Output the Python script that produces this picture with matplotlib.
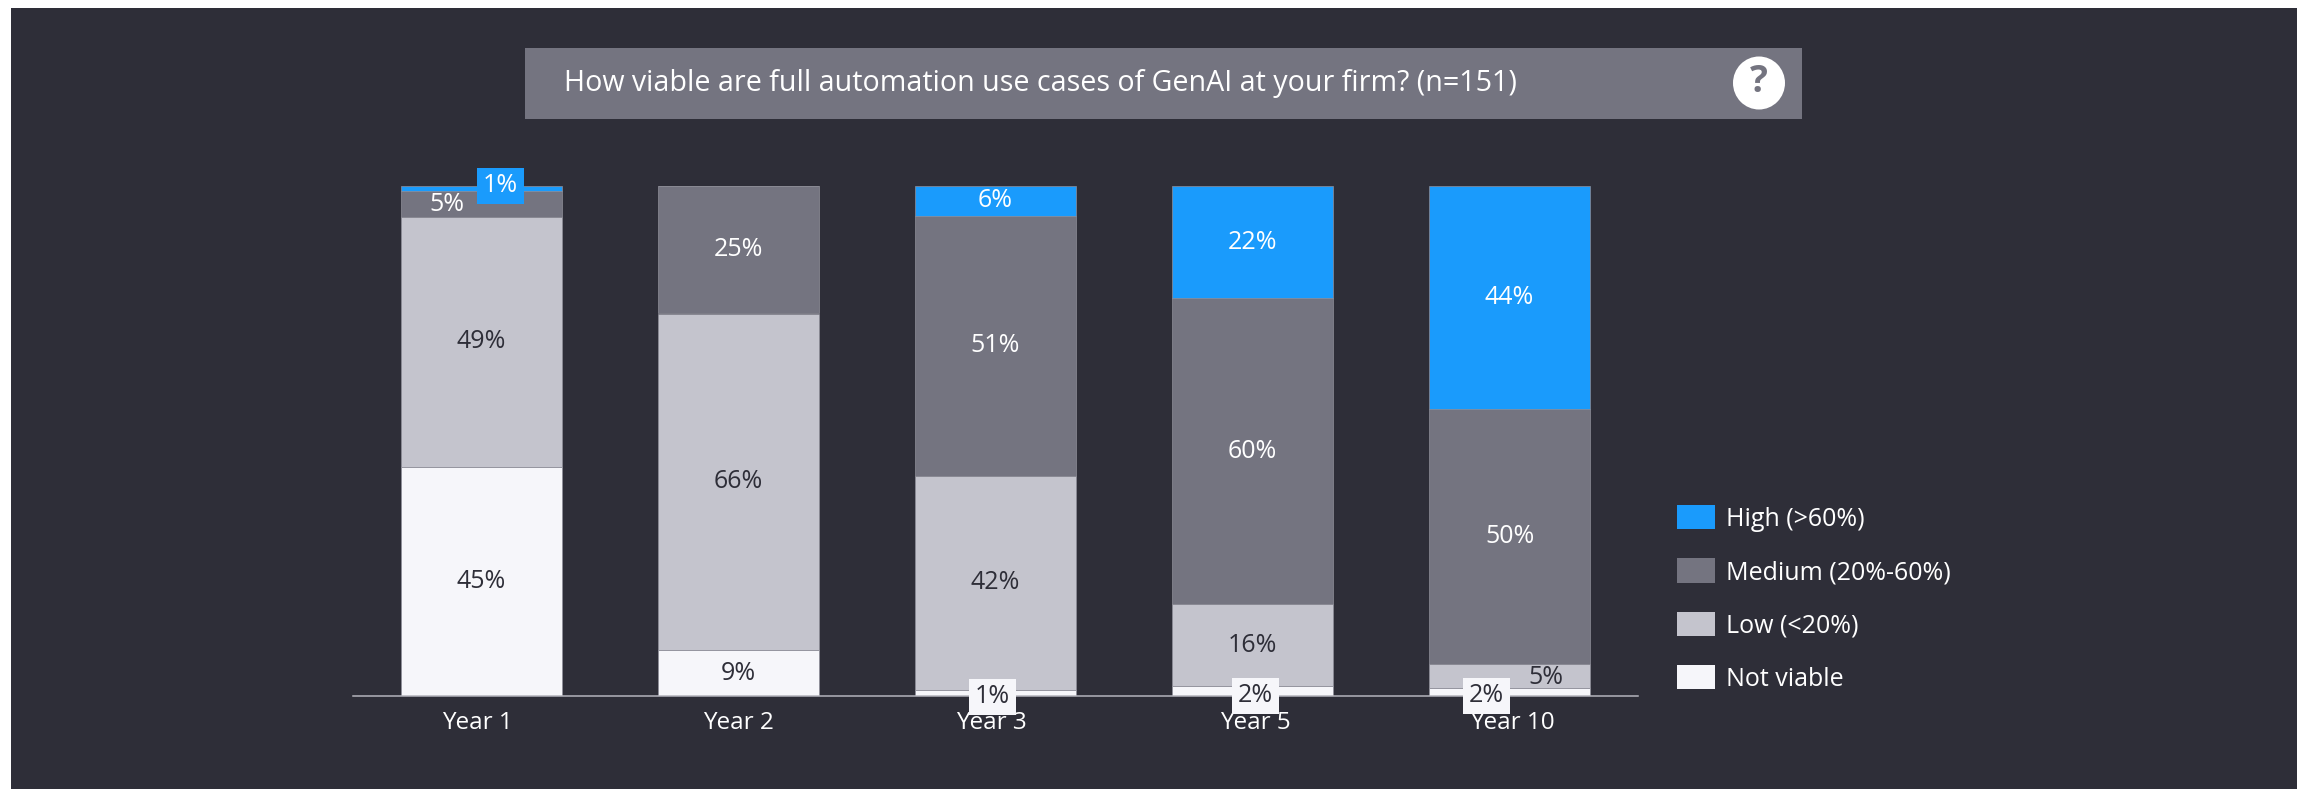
import matplotlib
matplotlib.use("Agg")
import matplotlib.pyplot as plt
from matplotlib.patches import Rectangle, Ellipse, Patch

years = ["Year 1", "Year 2", "Year 3", "Year 5", "Year 10"]
not_viable = [45, 9, 1.2, 2, 1.6]
low = [49, 66, 42, 16, 4.6]
medium = [5, 25, 51, 60, 50]
high = [1, 0, 5.8, 22, 43.8]
series_names = ["Not viable", "Low (<20%)", "Medium (20%-60%)", "High (>60%)"]
title = "How viable are full automation use cases of GenAI at your firm? (n=151)"

BG, BOX, LOW, NV, BLUE = "#2E2E38", "#747480", "#C4C4CD", "#F6F6FA", "#1A9BFC"
W, H = 2297, 789
plt.rcParams["font.family"] = ["Open Sans", "DejaVu Sans"]

fig = plt.figure(figsize=(W / 100, H / 100), dpi=100, facecolor="white")

# chrome in pixel coordinates
bgax = fig.add_axes([0, 0, 1, 1], zorder=0)
bgax.set_xlim(0, W); bgax.set_ylim(H, 0); bgax.axis("off")
bgax.add_patch(Rectangle((11, 8), W - 11, H - 8, fc=BG, ec="none"))
bgax.add_patch(Rectangle((525, 48), 1802 - 525, 71, fc=BOX, ec="none"))
bgax.text(564, 83, title, color="white", fontsize=20.6, va="center", ha="left")
bgax.add_patch(Ellipse((1759, 83), 52, 53, fc="white", ec="none"))
bgax.text(1759, 82, "?", color=BOX, fontsize=27, fontweight="bold", va="center", ha="center")

# chart
ax = fig.add_axes([353 / W, 1 - 696 / H, (1638 - 353) / W, 510 / H], zorder=1)
ax.patch.set_alpha(0)
ax.set_xlim(-0.5, 4.5); ax.set_ylim(0, 100)
x = list(range(len(years)))
colors = [NV, LOW, BOX, BLUE]
text_colors = [BG, BG, "white", "white"]
rows = [not_viable, low, medium, high]
bottoms = [0.0] * len(x)
centers = []
for vals, c, name in zip(rows, colors, series_names):
    ax.bar(x, vals, 0.626, bottom=bottoms, color=c, edgecolor="#8F8F99", linewidth=0.5, label=name)
    centers.append([b + v / 2 for b, v in zip(bottoms, vals)])
    bottoms = [b + v for b, v in zip(bottoms, vals)]

# label shifts in pixels, for the small segments that were moved off-centre
shift = {(0, 3): (19, 3), (0, 2): (-35, -1), (2, 0): (-3, -4), (3, 0): (3, -5),
         (4, 0): (-23, -4), (4, 1): (36, -1)}
boxed = {(0, 3), (2, 0), (3, 0), (4, 0)}
for s, vals in enumerate(rows):
    for i, v in enumerate(vals):
        if v == 0:
            continue
        dx, dy = shift.get((i, s), (0, 0))
        kw = {}
        if (i, s) in boxed:
            kw["bbox"] = dict(boxstyle="square,pad=0.22", fc=colors[s], ec="none")
        ax.annotate(f"{round(v)}%", (i, centers[s][i]), xytext=(dx * 0.72, dy * 0.72),
                    textcoords="offset points", ha="center", va="center",
                    color=text_colors[s], fontsize=18, zorder=5, annotation_clip=False, **kw)

for sp in ["top", "left", "right"]:
    ax.spines[sp].set_visible(False)
ax.spines["bottom"].set_color("#B4B4BC"); ax.spines["bottom"].set_linewidth(1.1)
ax.set_yticks([])
ax.set_xticks(x); ax.set_xticklabels([])
ax.tick_params(axis="x", length=0)
tick_dx = [-4, 0, -4, 3, 3]
for i, name in enumerate(years):
    ax.annotate(name, (i, 0), xytext=(tick_dx[i] * 0.72, -27 * 0.72), textcoords="offset points",
                ha="center", va="center", color="white", fontsize=17.5, annotation_clip=False)

# legend
F = 18
handles = [Patch(fc=c, ec="none") for c in colors[::-1]]
leg = fig.legend(handles, series_names[::-1], loc="upper left", bbox_to_anchor=(1677 / W, 1 - 505 / H),
                 frameon=False, fontsize=F, borderpad=0, borderaxespad=0,
                 handlelength=27.4 / F, handleheight=20.2 / F, handletextpad=7.9 / F,
                 labelspacing=19.2 / F, labelcolor="white")
leg.set_zorder(3)

fig.savefig("out.png", dpi=100, facecolor="white")
